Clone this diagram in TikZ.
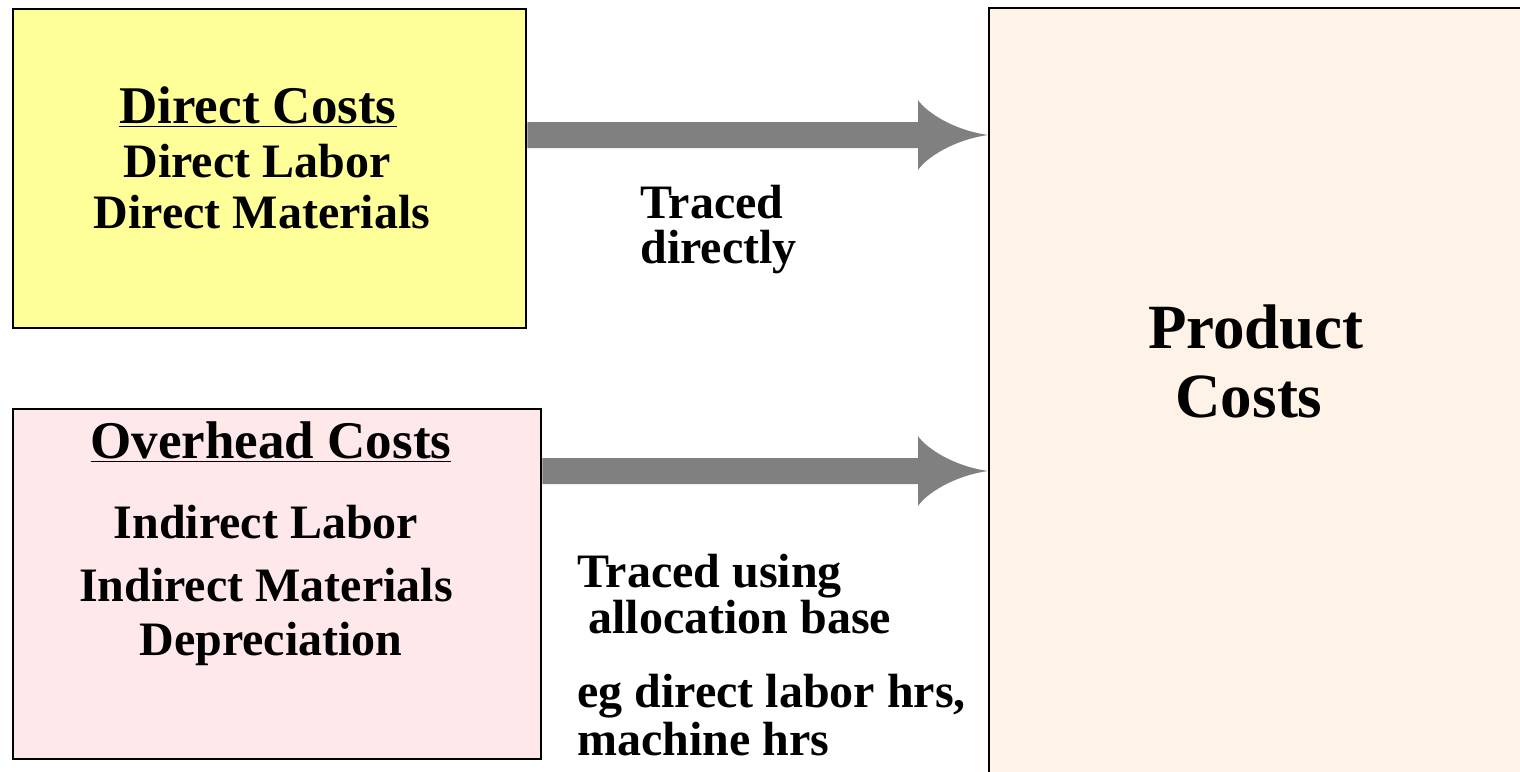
\documentclass[tikz,border=0pt]{standalone}
\usepackage{fontspec}
\setmainfont{Liberation Serif}
\usetikzlibrary{calc}
\definecolor{yel}{HTML}{FFFF99}
\definecolor{pnk}{HTML}{FFE8EA}
\definecolor{peach}{HTML}{FFF3E8}
\definecolor{agray}{HTML}{808080}
\tikzset{
  box/.style={draw=black, line width=1.2pt, rectangle, inner sep=0pt, anchor=north west},
  bigtxt/.style={font=\fontsize{26.5}{30}\selectfont\bfseries, anchor=base, inner sep=0pt},
  midtxt/.style={font=\fontsize{24}{28}\selectfont\bfseries, anchor=base, inner sep=0pt},
  midleft/.style={midtxt, anchor=base west},
  hugetxt/.style={font=\fontsize{31.5}{36}\selectfont\bfseries, anchor=base, inner sep=0pt},
}
% block arrow from #1 to #2 (named coordinates)
\newcommand\blockarrow[2]{%
  \fill[agray] ($(#1)+(0,-13)$) -- ($(#2)+(-70,-13)$) -- ($(#2)+(-70,-35)$)
    .. controls ($(#2)+(-62,-23)$) and ($(#2)+(-35,-5)$) .. (#2)
    .. controls ($(#2)+(-35,5)$) and ($(#2)+(-62,23)$) .. ($(#2)+(-70,35)$)
    -- ($(#2)+(-70,13)$) -- ($(#1)+(0,13)$) -- cycle;}
\begin{document}
\begin{tikzpicture}[x=0.5pt,y=-0.5pt]
\useasboundingbox (0,0) rectangle (1520,771);
\clip (0,0) rectangle (1520,771);
% boxes
\node[box, fill=yel, minimum width=256.5pt, minimum height=159.5pt] (dc) at (12,8) {};
\node[box, fill=pnk, minimum width=264pt, minimum height=175pt] (oc) at (12,408) {};
\node[box, fill=peach, minimum width=280pt, minimum height=400pt] (pc) at (988,7) {};
% arrows
\coordinate (y1) at (0,135);
\coordinate (y2) at (0,471);
\coordinate (a1s) at (dc.east |- y1);
\coordinate (a1e) at (pc.west |- y1);
\coordinate (a2s) at (oc.east |- y2);
\coordinate (a2e) at (pc.west |- y2);
\blockarrow{a1s}{a1e}
\blockarrow{a2s}{a2e}
% texts in direct costs
\node[bigtxt] (t1) at (258,123) {\underline{Direct Costs}};
\node[midtxt] (t2) at (257,177) {Direct Labor};
\node[midtxt] (t3) at (262,228) {Direct Materials};
% texts in overhead
\node[bigtxt] (t4) at (271,458) {\underline{Overhead Costs}};
\node[midtxt] (t5) at (266,538) {Indirect Labor};
\node[midtxt] (t6) at (266,601) {Indirect Materials};
\node[midtxt] (t7) at (271,655) {Depreciation};
% labels
\node[midleft] (l1) at (640,218) {Traced};
\node[midleft] (l2) at (640,263) {directly};
\node[midleft] (l3) at (577,587) {Traced using};
\node[midleft] (l4) at (588,633) {allocation base};
\node[midleft] (l5) at (577,707) {eg direct labor hrs,};
\node[midleft] (l6) at (577,755) {machine hrs};
% product costs
\node[hugetxt] (p1) at (1256,348) {Product};
\node[hugetxt] (p2) at (1249,417) {Costs};
\end{tikzpicture}
\end{document}
